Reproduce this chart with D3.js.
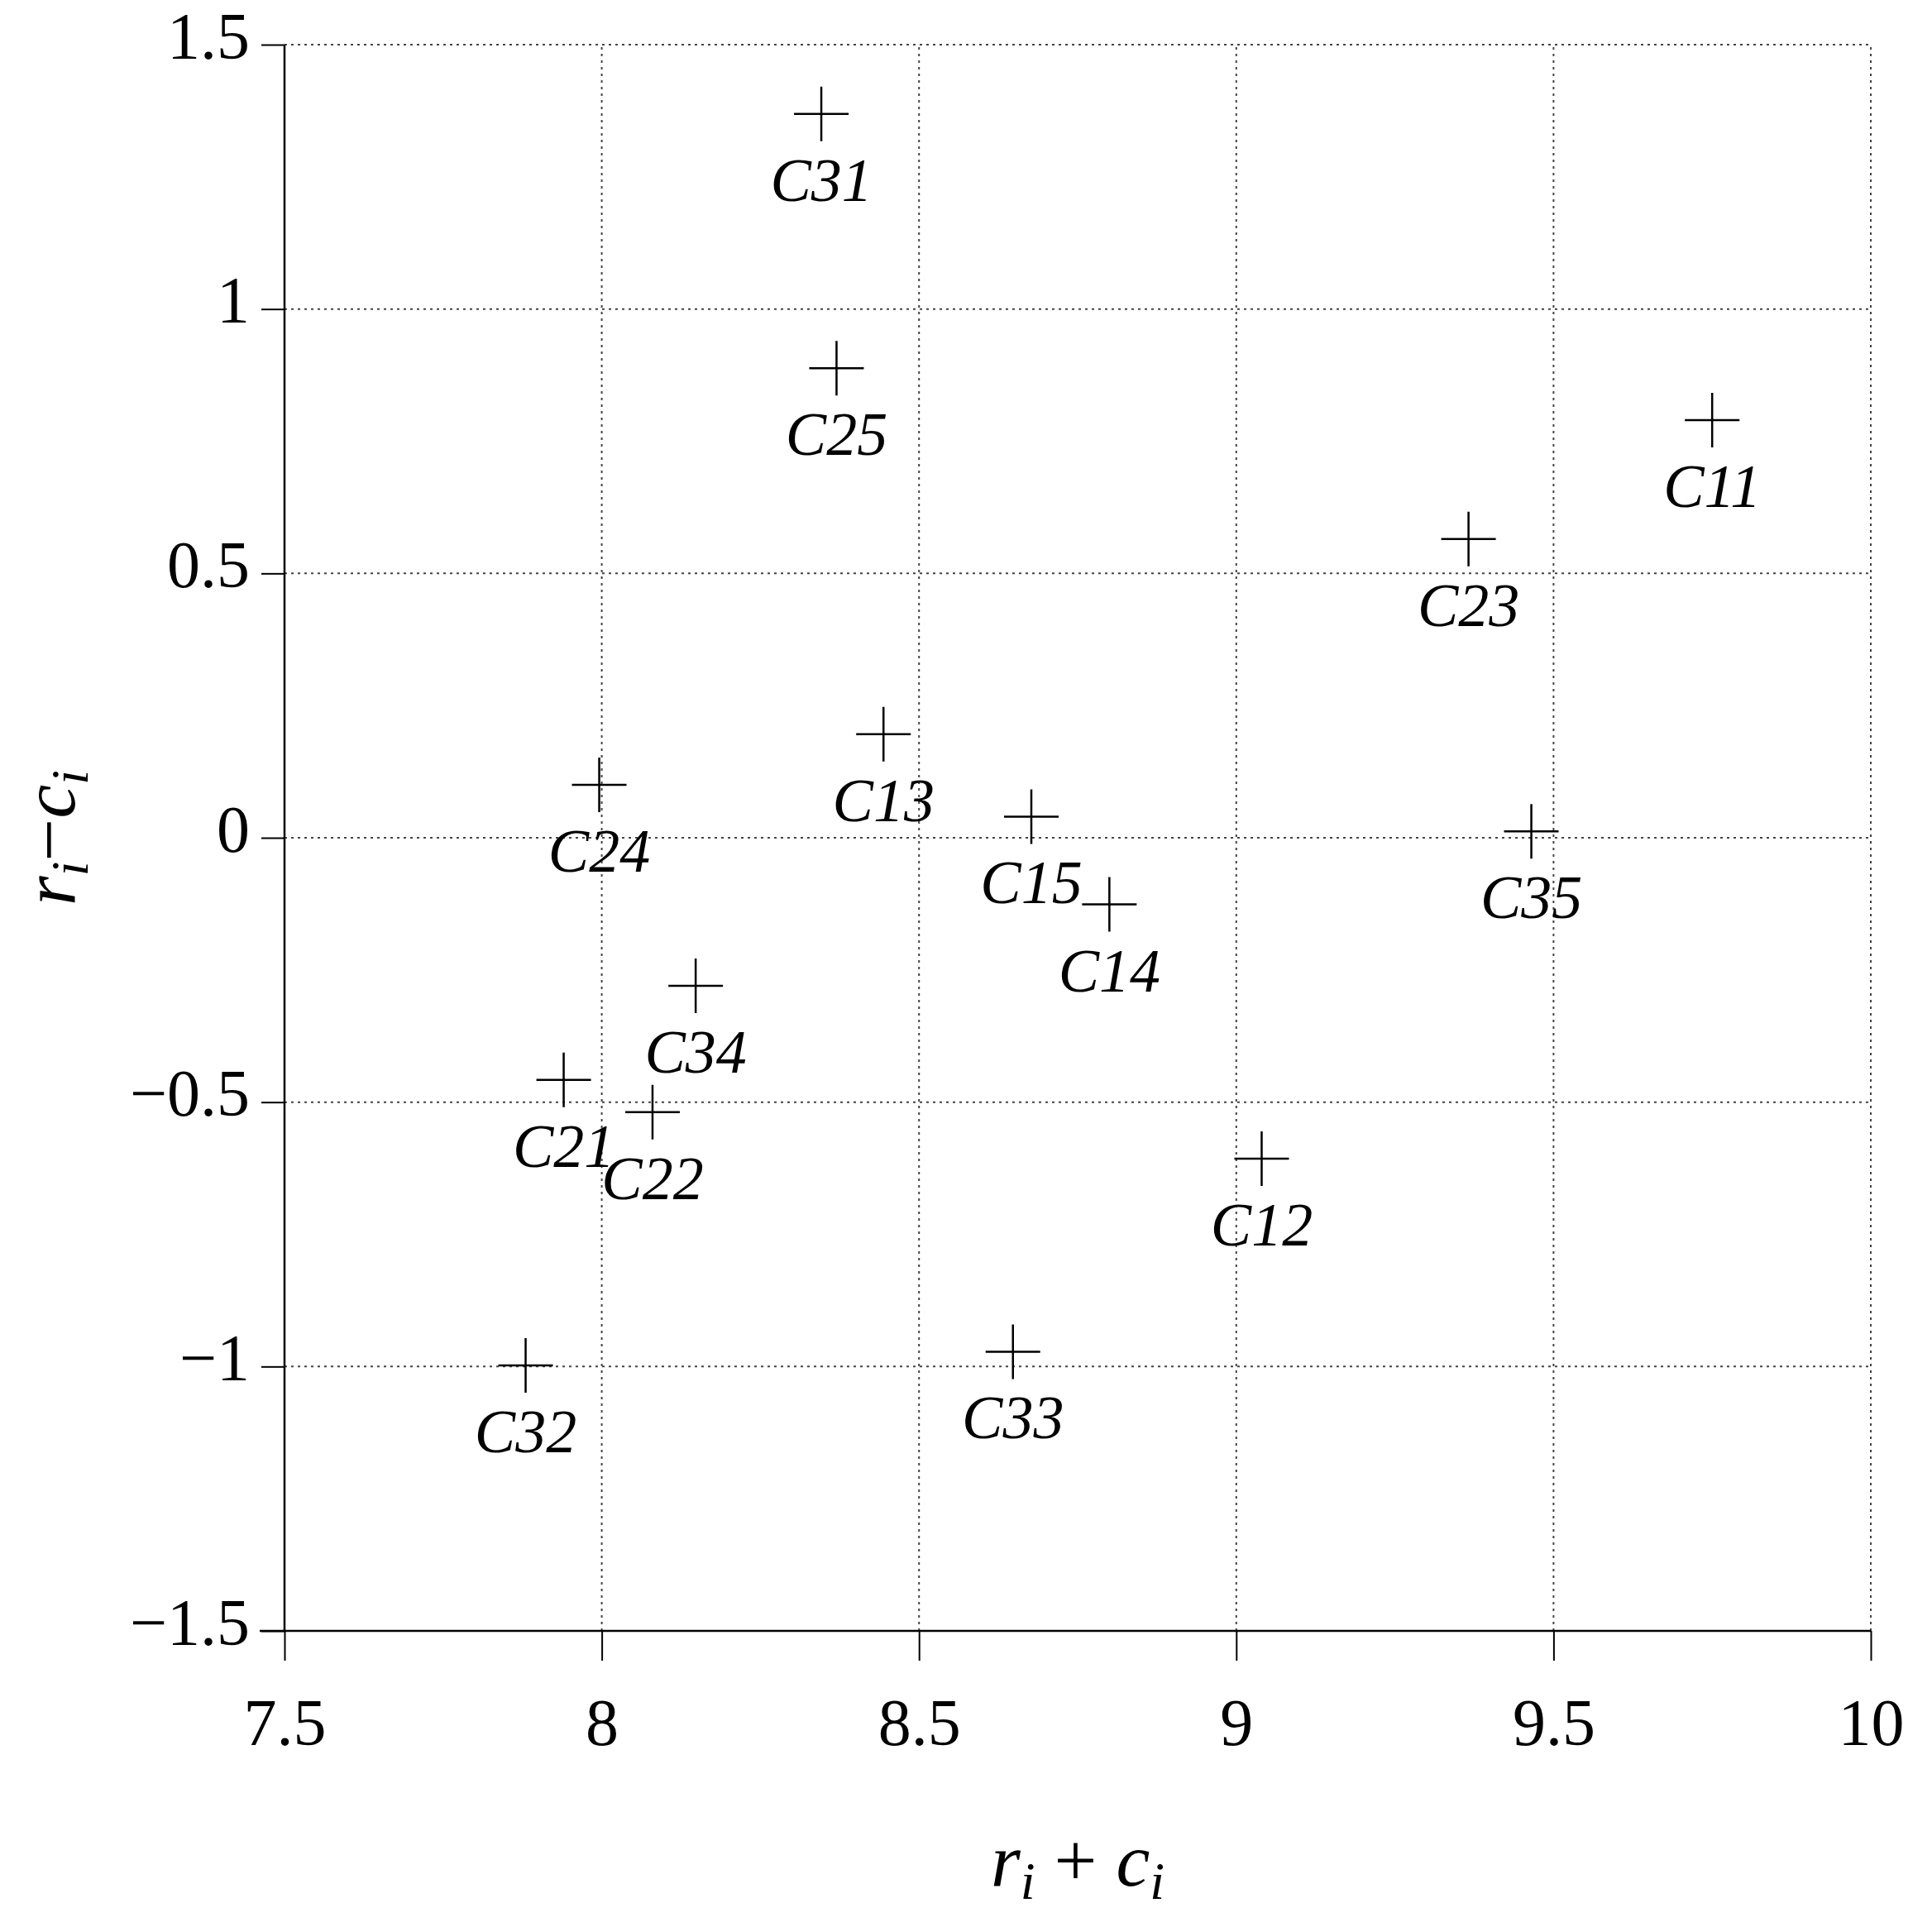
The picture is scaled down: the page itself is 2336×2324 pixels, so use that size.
<!doctype html>
<html>
<head>
  <meta charset="UTF-8">
  <style>body{margin:0;background:#fff}</style>
</head>
<body>
  <script src="https://cdnjs.cloudflare.com/ajax/libs/d3/7.8.5/d3.min.js"></script>
  <script>
  var names = ['C31','C25','C11','C23','C13','C24','C15','C35','C14','C34','C21','C22','C12','C33','C32'];
  var xs = [8.346, 8.37, 9.75, 9.366, 8.444, 7.996, 8.677, 9.465, 8.80, 8.148, 7.94, 8.08, 9.04, 8.648, 7.88];
  var ys = [1.369, 0.888, 0.79, 0.565, 0.196, 0.100, 0.04, 0.012, -0.126, -0.28, -0.458, -0.519, -0.607, -0.972, -0.998];
  var xTicks = [7.5, 8, 8.5, 9, 9.5, 10];
  var yTicks = [-1.5, -1, -0.5, 0, 0.5, 1, 1.5];

  var W = 2336, H = 2324;
  var font = '"Liberation Serif", "DejaVu Serif", serif';
  var svg = d3.select('body').append('svg').attr('width', W).attr('height', H);
  var x = d3.scaleLinear().domain([7.5, 10]).range([344, 2262]);
  var y = d3.scaleLinear().domain([-1.5, 1.5]).range([1972, 54]);
  var fmt = function(d) { return String(d).replace('-', '\u2212'); };

  // grid
  svg.append('g').selectAll('line').data(xTicks.slice(1)).enter().append('line')
    .attr('x1', x).attr('x2', x).attr('y1', y(-1.5)).attr('y2', y(1.5))
    .attr('stroke', '#444').attr('stroke-width', 2).attr('stroke-dasharray', '3,5');
  svg.append('g').selectAll('line').data(yTicks.slice(1)).enter().append('line')
    .attr('y1', y).attr('y2', y).attr('x1', x(7.5)).attr('x2', x(10))
    .attr('stroke', '#444').attr('stroke-width', 2).attr('stroke-dasharray', '3,5');

  var xa = svg.append('g').attr('transform', 'translate(0,' + y(-1.5) + ')')
    .call(d3.axisBottom(x).tickValues(xTicks).tickFormat(fmt).tickSize(36).tickPadding(45));
  var ya = svg.append('g').attr('transform', 'translate(' + x(7.5) + ',0)')
    .call(d3.axisLeft(y).tickValues(yTicks).tickFormat(fmt).tickSize(28).tickPadding(14));
  [xa, ya].forEach(function(a) {
    a.select('.domain').attr('stroke-width', 2.5);
    a.selectAll('.tick line').attr('stroke-width', 2);
    a.selectAll('text').attr('font-family', font).attr('font-size', 80).attr('fill', '#000');
  });
  ya.select('.domain').attr('d', 'M0,' + y(1.5) + 'V' + y(-1.5));
  xa.select('.domain').attr('d', 'M' + (x(7.5) - 30) + ',0H' + x(10));
  ya.selectAll('.tick text').attr('dy', '0.2em');

  var pts = svg.append('g').selectAll('g').data(names).enter().append('g')
    .attr('transform', function(d, i) { return 'translate(' + x(xs[i]) + ',' + y(ys[i]) + ')'; });
  pts.append('path').attr('d', 'M-33,0H33M0,-33V33').attr('stroke', '#000').attr('stroke-width', 2.5);
  pts.append('text').text(function(d) { return d; })
    .attr('y', 105).attr('text-anchor', 'middle')
    .attr('font-family', font).attr('font-style', 'italic').attr('font-size', 74);

  svg.append('text').attr('x', (x(7.5) + x(10)) / 2).attr('y', 2280).attr('text-anchor', 'middle')
    .attr('font-family', font).attr('font-style', 'italic').attr('font-size', 92)
    .html('r<tspan font-size="64" dy="16">i</tspan><tspan dy="-16" font-style="normal"> + </tspan>c<tspan font-size="64" dy="16">i</tspan>');
  svg.append('text').attr('transform', 'translate(90,' + y(0) + ') rotate(-90)').attr('text-anchor', 'middle')
    .attr('font-family', font).attr('font-style', 'italic').attr('font-size', 92)
    .html('r<tspan font-size="64" dy="16">i</tspan><tspan dy="-16" font-style="normal">\u2212</tspan>c<tspan font-size="64" dy="16">i</tspan>');
  </script>
</body>
</html>
